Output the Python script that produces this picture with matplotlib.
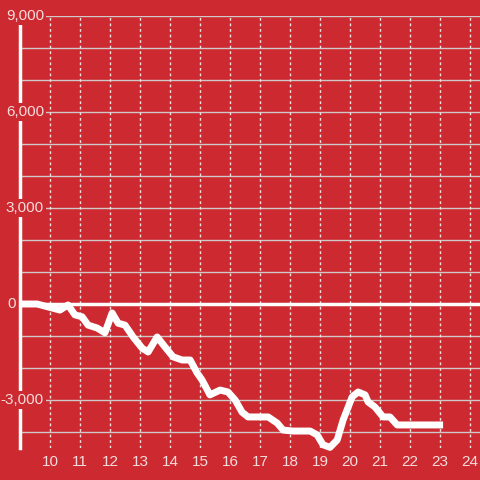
import matplotlib
matplotlib.use("Agg")
import matplotlib.pyplot as plt
from matplotlib.transforms import blended_transform_factory

# hours of the day and running value
hours = [9.0, 9.57, 10.33, 10.6, 10.83, 11.07, 11.27, 11.57, 11.83, 12.07,
         12.27, 12.5, 12.77, 13.07, 13.27, 13.57, 13.83, 14.1, 14.4, 14.67,
         14.9, 15.07, 15.33, 15.67, 15.93, 16.17, 16.4, 16.6, 17.0, 17.27,
         17.57, 17.77, 18.1, 18.67, 18.9, 19.1, 19.33, 19.57, 19.77, 20.07,
         20.27, 20.5, 20.6, 20.83, 21.1, 21.33, 21.57, 22.1, 23.1]
values = [0, 0, -190, -30, -340, -400, -660, -750, -900, -280,
          -600, -660, -1030, -1380, -1500, -1030, -1340, -1650, -1750, -1750,
          -2150, -2380, -2840, -2690, -2750, -3000, -3380, -3530, -3530, -3530,
          -3720, -3940, -3970, -3970, -4090, -4400, -4480, -4250, -3620, -2900,
          -2750, -2840, -3060, -3220, -3530, -3530, -3780, -3780, -3780]

x_ticks = list(range(10, 25))
y_labels = [9000, 6000, 3000, 0, -3000]
y_grid = list(range(-4000, 10000, 1000))

red = '#cc2a30'
txt = '#f4dcdc'

plt.rcParams['font.family'] = ['Liberation Sans', 'DejaVu Sans']

fig = plt.figure(figsize=(4.8, 4.8), dpi=100, facecolor=red)
ax = fig.add_axes([20 / 480, 32 / 480, 460 / 480, 432 / 480])
ax.set_facecolor(red)
ax.set_xlim(9, 24.33)
ax.set_ylim(-4500, 9000)

# grid
for g in y_grid:
    ax.axhline(g, color='#d0c8c8', lw=1, zorder=1)
for h in x_ticks:
    ax.axvline(h, color='#f0e0e0', lw=1, ls=(0, (2, 2)), zorder=1)
ax.axhline(0, color='white', lw=2.5, zorder=2)

for s in ['top', 'right', 'bottom']:
    ax.spines[s].set_visible(False)
ax.spines['left'].set_color('white')
ax.spines['left'].set_linewidth(2.5)

ax.plot(hours, values, color='white', lw=5, solid_joinstyle='round',
        solid_capstyle='butt', zorder=3, clip_on=False)

ax.set_xticks(x_ticks)
ax.set_xticklabels([str(h) for h in x_ticks])
ax.set_yticks([])
ax.tick_params(axis='x', length=0, pad=5, labelsize=11, labelcolor=txt)

trans = blended_transform_factory(ax.transAxes, ax.transData)
for v in y_labels:
    if v == 0:
        xpos = -0.01
    else:
        xpos = 0.052
    ax.text(xpos, v, f"{v:,}", transform=trans, ha='right', va='center',
            fontsize=11, color=txt, zorder=5,
            bbox=dict(facecolor=red, edgecolor='none', pad=1.5))

fig.savefig('out.png', dpi=100, facecolor=red)
